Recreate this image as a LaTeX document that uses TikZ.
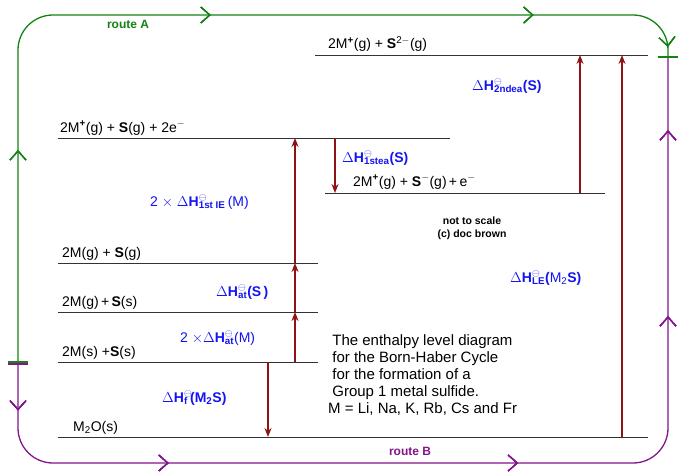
\documentclass[tikz,border=0pt]{standalone}
\usepackage{fontspec}
\setmainfont{Liberation Sans}
\usetikzlibrary{arrows.meta,decorations.markings}
\definecolor{rA}{RGB}{20,130,20}
\definecolor{rB}{RGB}{130,20,140}
\definecolor{dr}{RGB}{140,20,20}
\definecolor{lb}{RGB}{20,20,240}
\newcommand{\dHs}[1]{\textbf{$\Delta$H\rlap{\textsuperscript{$\ominus$}}\textsubscript{#1}}}
\begin{document}
\begin{tikzpicture}[x=1pt,y=-1pt,
 lvl/.style={line width=0.9pt,black!80},
 lt/.style={anchor=base west,font=\fontsize{14}{16}\selectfont,inner sep=0},
 up/.style={dr,line width=1.8pt,-{Stealth[length=9pt,width=7pt]}},
 lab/.style={lb,font=\fontsize{14}{16}\selectfont\bfseries,inner sep=0},
 barb/.style={postaction={decorate},decoration={markings,mark=at position #1 with {\arrow{Straight Barb[length=9pt,width=16pt,line width=1.2pt]}}}}]
\useasboundingbox (0,0) rectangle (700,473);
% levels
\draw[lvl] (315,55) coordinate(t1) -- (648,55) coordinate(t2);
\node[lt] (L1) at (328,49) {2M\textsuperscript{\textbf{+}}(g) + \textbf{S}\textsuperscript{2$-$}(g)};
\draw[lvl] (58,138) coordinate(a1) -- (450,138) coordinate(a2);
\node[lt] (L2) at (60,132) {2M\textsuperscript{\textbf{+}}(g) + \textbf{S}(g) + 2e\textsuperscript{$-$}};
\draw[lvl] (325,193) coordinate(b1) -- (605,193) coordinate(b2);
\node[lt] (L3) at (353,186) {2M\textsuperscript{\textbf{+}}(g) + \textbf{S}\textsuperscript{$-$}(g)\,+\,e\textsuperscript{$-$}};
\draw[lvl] (58,263) coordinate(c1) -- (318,263) coordinate(c2);
\node[lt] (L4) at (62,257) {2M(g) + \textbf{S}(g)};
\draw[lvl] (58,312) coordinate(d1) -- (318,312) coordinate(d2);
\node[lt] (L5) at (62,306) {2M(g)\,+\,\textbf{S}(s)};
\draw[lvl] (58,362) coordinate(e1) -- (318,362) coordinate(e2);
\node[lt] (L6) at (62,356) {2M(s) +\textbf{S}(s)};
\draw[lvl] (58,437) coordinate(f1) -- (648,437) coordinate(f2);
\node[lt] (L7) at (73,431) {M\textsubscript{2}O(s)};
% red arrows
\coordinate (p1) at (295,362); \coordinate (p2) at (295,312);
\coordinate (p3) at (295,263); \coordinate (p4) at (295,138);
\draw[up] (p1) -- (p2); \draw[up] (p2) -- (p3); \draw[up] (p3) -- (p4);
\coordinate (q1) at (335,138); \coordinate (q2) at (335,193);
\draw[up] (q1) -- (q2);
\coordinate (r1) at (580,193); \coordinate (r2) at (580,55);
\draw[up] (r1) -- (r2);
\coordinate (s1) at (622,437); \coordinate (s2) at (622,55);
\draw[up] (s1) -- (s2);
\coordinate (u1) at (268,362); \coordinate (u2) at (268,437);
\draw[up] (u1) -- (u2);
% labels
\node[lab,anchor=west] (H1) at (472,86) {\dHs{2ndea}(S)};
\node[lab,anchor=west] (H2) at (342,158) {\dHs{1stea}(S)};
\node[lab,anchor=west,font=\fontsize{14}{16}\selectfont] (H3) at (150,202) {2 $\times$ \dHs{1st IE}\,(M)};
\node[lab,anchor=west] (H4) at (216,292) {\dHs{at}(S\,)};
\node[lab,anchor=west,font=\fontsize{14}{16}\selectfont] (H5) at (180,338) {2 $\times$\dHs{at}(M)};
\node[lab,anchor=west] (H6) at (162,398) {\dHs{f}\,(M\textsubscript{2}S)};
\node[lab,anchor=west] (H7) at (510,278) {\dHs{LE}(\mdseries M\textsubscript{2}\bfseries S)};
\node[font=\fontsize{10.5}{13}\selectfont\bfseries,align=center] (N) at (472,228) {not to scale\\(c) doc brown};
\node[font=\fontsize{15}{17}\selectfont,align=left,anchor=north west,inner sep=0] (D) at (328,334)
 {\ The enthalpy level diagram\\\ for the Born-Haber Cycle\\\ for the formation of a\\\ Group 1 metal sulfide.\\M = Li, Na, K, Rb, Cs and Fr};
% routes
\coordinate (A0) at (18,362); \coordinate (A1) at (668,57);
\draw[rA,line width=1.3pt,rounded corners=35pt,barb=0.21,barb=0.52,barb=0.84,barb=0.99] (A0) -- (18,15) -- (668,15) -- (A1);
\draw[rB,line width=1.3pt,rounded corners=35pt,barb=0.043,barb=0.21,barb=0.52,barb=0.77,barb=0.935] (A0) -- (18,463) -- (668,463) -- (A1);
\draw[rA,line width=2pt] (8,362) -- (28,362);
\draw[rB,line width=1.2pt] (8,364) -- (28,364);
\draw[rA,line width=2.5pt] (658,57) -- (678,57);
\node[rA,font=\fontsize{12}{14}\selectfont\bfseries] (RA) at (128,24) {route A};
\node[rB,font=\fontsize{12}{14}\selectfont\bfseries] (RB) at (410,451) {route B};
\end{tikzpicture}
\end{document}
